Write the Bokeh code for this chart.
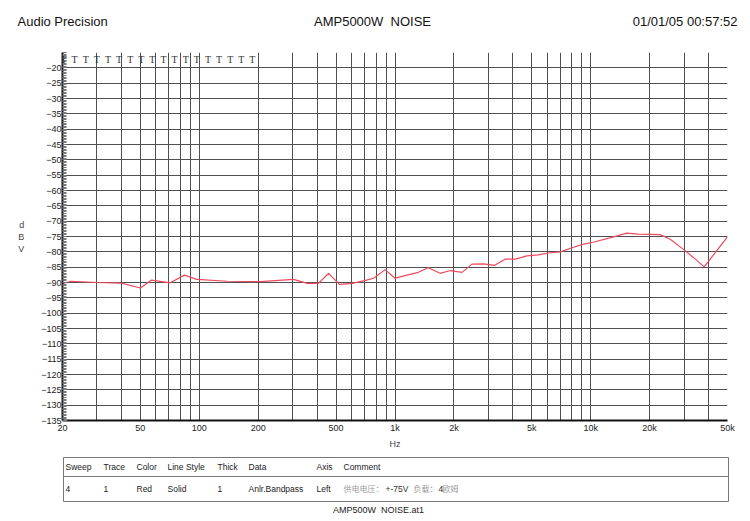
from bokeh.plotting import figure
from bokeh.models import Range1d, FixedTicker, Label, Plot
from bokeh.layouts import column
from bokeh.core.properties import value
from bokeh.embed import file_html
from bokeh.resources import INLINE

# ---------------- data ----------------
freq_hz = [20, 22, 30, 40, 50, 57, 71, 84, 97, 139, 205, 303, 356, 406, 458, 520,
           605, 707, 778, 890, 1000, 1300, 1480, 1700, 1920, 2200, 2475, 2830, 3230,
           3650, 4130, 4720, 5400, 6200, 7000, 8100, 9200, 10400, 13100, 15300,
           17500, 22600, 25500, 29800, 33600, 38000, 50000]
level_dbv = [-90.4, -89.6, -90.0, -90.2, -91.8, -89.2, -90.1, -87.6, -89.0, -89.6,
             -89.7, -89.0, -90.3, -90.3, -87.0, -90.6, -90.3, -89.3, -88.6, -85.8,
             -88.6, -86.8, -85.2, -87.0, -86.1, -86.7, -84.0, -83.9, -84.4, -82.4,
             -82.4, -81.3, -81.0, -80.3, -80.0, -78.6, -77.5, -76.8, -75.1, -73.9,
             -74.2, -74.4, -75.9, -79.2, -81.9, -84.9, -75.1]

x_tick_vals = [20, 50, 100, 200, 500, 1000, 2000, 5000, 10000, 20000, 50000]
x_tick_labels = ["20", "50", "100", "200", "500", "1k", "2k", "5k", "10k", "20k", "50k"]
x_grid_vals = [30, 40, 50, 60, 70, 80, 90, 100, 200, 300, 400, 500, 600, 700, 800, 900,
               1000, 2000, 3000, 4000, 5000, 6000, 7000, 8000, 9000, 10000, 20000,
               30000, 40000, 50000]
y_tick_vals = list(range(-135, -19, 5))
y_grid_vals = list(range(-130, -19, 5))
y_minor_vals = [v / 2 for v in range(-270, -29)]

title_left = "Audio Precision"
title_center = "AMP5000W\u00a0 NOISE"
title_right = "01/01/05 00:57:52"
table_headers = ["Sweep", "Trace", "Color", "Line Style", "Thick", "Data", "Axis", "Comment"]
table_values = ["4", "1", "Red", "Solid", "1", "Anlr.Bandpass", "Left"]
footer = "AMP500W\u00a0 NOISE.at1"

FONT = "Liberation Sans"
W = 750
HAS_FA = "frame_align" in Plot.properties()


def blank(height, y0, y1):
    f = figure(width=W, height=height, x_range=Range1d(0, W), y_range=Range1d(y0, y1),
               x_axis_location=None, y_axis_location=None, toolbar_location=None,
               output_backend="svg", min_border=0, outline_line_color=None)
    f.grid.visible = False
    if HAS_FA:
        f.frame_align = False
    return f


# ---------------- header (page y 0..48) ----------------
hdr = blank(48, 48, 0)
hdr.text(x=[17], y=[21], text=[title_left], text_font=value(FONT), text_font_size="13px",
         text_align="left", text_baseline="middle", text_color="#111111")
hdr.text(x=[372], y=[21], text=[title_center], text_font=value(FONT), text_font_size="13px",
         text_align="center", text_baseline="middle", text_color="#111111")
hdr.text(x=[737], y=[21], text=[title_right], text_font=value(FONT), text_font_size="13px",
         text_align="right", text_baseline="middle", text_color="#111111")

# ---------------- main plot (page y 48..452, frame 52..420) ----------------
p = figure(width=W, height=404, x_axis_type="log", x_range=Range1d(20, 50000),
           y_range=Range1d(-135, -15), toolbar_location=None, output_backend="svg",
           min_border_left=62, min_border_right=23, min_border_top=4, min_border_bottom=32,
           outline_line_color=None)
if HAS_FA:
    p.frame_align = False

p.line(freq_hz, level_dbv, line_color="#ec4a5c", line_width=1.2)

p.xaxis.ticker = FixedTicker(ticks=x_tick_vals)
p.xaxis.major_label_overrides = {v: s for v, s in zip(x_tick_vals, x_tick_labels)}
p.xaxis.major_tick_in = 0
p.xaxis.major_tick_out = 0
p.xaxis.minor_tick_in = 0
p.xaxis.minor_tick_out = 0
p.xaxis.major_label_standoff = 2
p.xaxis.axis_label = "Hz"
p.xaxis.axis_label_standoff = 3
p.xaxis.axis_label_text_font_style = "normal"
p.xaxis.axis_label_text_font_size = "9px"
p.xaxis.axis_label_text_font = FONT
p.xaxis.axis_line_width = 2
p.xaxis.axis_line_color = "#111111"

p.yaxis.ticker = FixedTicker(ticks=y_tick_vals, minor_ticks=y_minor_vals)
p.yaxis.major_tick_in = 5
p.yaxis.major_tick_out = 0
p.yaxis.minor_tick_in = 4
p.yaxis.minor_tick_out = 0
p.yaxis.minor_tick_line_color = "#777777"
p.yaxis.major_tick_line_color = "#555555"
p.yaxis.major_label_standoff = 1
p.yaxis.axis_label = "d\nB\nV"
p.yaxis.axis_label_orientation = "horizontal"
p.yaxis.axis_label_standoff = 14
p.yaxis.axis_label_text_font_style = "normal"
p.yaxis.axis_label_text_font_size = "9px"
p.yaxis.axis_label_text_font = FONT
p.yaxis.axis_line_width = 2
p.yaxis.axis_line_color = "#111111"

for ax in (p.xaxis, p.yaxis):
    ax.major_label_text_font = FONT
    ax.major_label_text_font_size = "9px"
    ax.major_label_text_color = "#222222"

p.xgrid.ticker = FixedTicker(ticks=x_grid_vals)
p.ygrid.ticker = FixedTicker(ticks=y_grid_vals)
p.grid.grid_line_color = "#505050"
p.grid.grid_line_width = 1
p.grid.grid_line_alpha = 1.0

tees = "\u00a0\u00a0".join(["T"] * 18)
p.add_layout(Label(x=20, y=-15, x_offset=-2, y_offset=-1, text=tees, text_font="Liberation Serif",
                   text_font_size="10px", text_baseline="top", text_color="#333333"))

# ---------------- table (page y 452..521, box 457..501) ----------------
tb = blank(69, 521, 452)
tb.quad(left=[63], right=[728], top=[457], bottom=[501], fill_color=None,
        line_color="#777777", line_width=1)
tb.segment(x0=[63], y0=[476], x1=[728], y1=[476], line_color="#777777", line_width=1)
col_x = [65, 103, 136, 167, 217, 248, 316, 343]
tb.text(x=col_x, y=[466] * len(col_x), text=table_headers, text_font=value(FONT),
        text_font_size="8.5px", text_align="left", text_baseline="middle", text_color="#222222")
tb.text(x=col_x[:7], y=[488] * 7, text=table_values, text_font=value(FONT),
        text_font_size="8.5px", text_align="left", text_baseline="middle", text_color="#222222")
CJK = "Noto Sans CJK SC"
tb.text(x=[343, 413, 442], y=[488] * 3, text=["供电电压：", "负载：", "欧姆"],
        text_font=value(CJK), text_font_size="8px", text_align="left",
        text_baseline="middle", text_color="#9a9a9a")
tb.text(x=[385, 438], y=[488] * 2, text=["+-75V", "4"], text_font=value(FONT),
        text_font_size="8.5px", text_align="left", text_baseline="middle", text_color="#333333")
tb.text(x=[378], y=[509], text=[footer], text_font=value(FONT), text_font_size="9px",
        text_align="center", text_baseline="middle", text_color="#222222")

layout = column(hdr, p, tb, spacing=0)
open("out.html", "w").write(file_html(layout, INLINE))
